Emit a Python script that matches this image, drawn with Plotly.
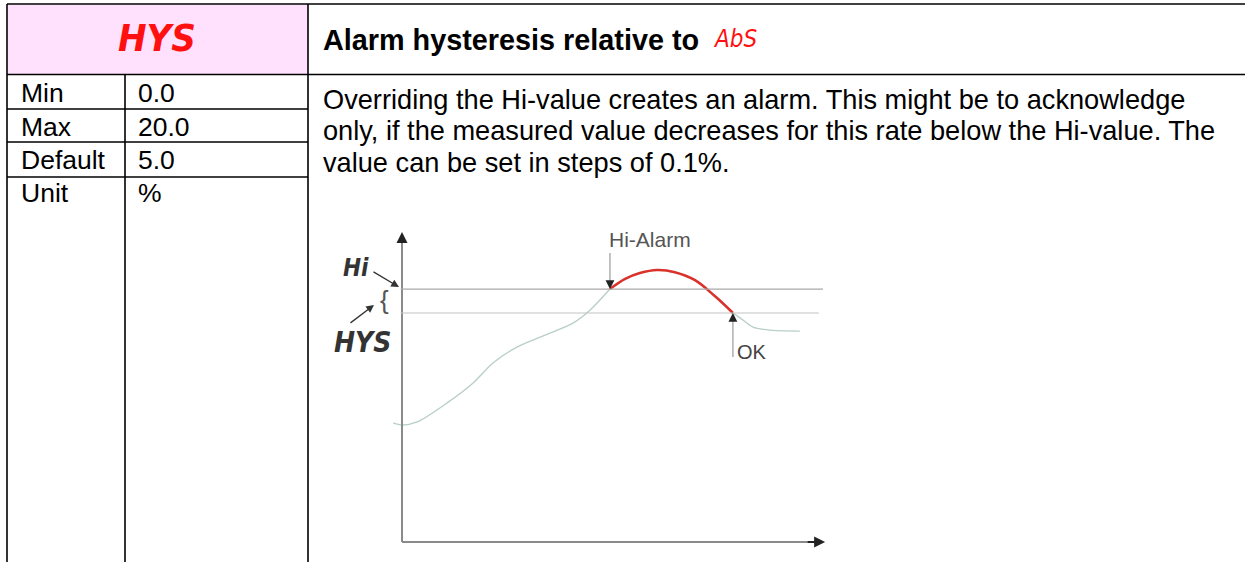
import plotly.graph_objects as go

# ---------------- data ----------------
param_names = ["Min", "Max", "Default", "Unit"]
param_values = ["0.0", "20.0", "5.0", "%"]
header_code = "HYS"
title_text = "Alarm hysteresis relative to"
title_code = "AbS"
body_lines = [
    "Overriding the Hi-value creates an alarm. This might be to acknowledge",
    "only, if the measured value decreases for this rate below the Hi-value. The",
    "value can be set in steps of 0.1%.",
]

# diagram (time units / value units)
hi_level = 82.4
hys_level = 74.6
rise_t = [-2.1, 0.0, 3.6, 10.7, 16.9, 21.6, 27.3, 34.0, 40.6, 44.7, 49.4]
rise_v = [38.8, 38.1, 39.1, 45.3, 51.8, 58.3, 63.5, 67.4, 71.3, 75.6, 82.4]
alarm_t = [49.4, 53.0, 56.5, 60.6, 64.8, 69.6, 74.3, 78.6]
alarm_v = [82.4, 85.7, 87.6, 88.6, 87.9, 85.3, 80.1, 74.6]
fall_t = [78.6, 80.3, 83.4, 87.4, 94.5]
fall_v = [74.6, 73.0, 70.0, 69.0, 68.7]
alarm_label = "Hi-Alarm"
ok_label = "OK"
hi_label = "Hi"
hys_label = "HYS"

# ---------------- layout constants ----------------
W, H = 1245, 562
SEG_FONT = "Liberation Sans Narrow, DejaVu Sans Condensed, Liberation Sans"
BODY_FONT = "Liberation Sans, Arial, sans-serif"

fig = go.Figure()

# diagram traces
curve_col = "#b9cfca"
fig.add_trace(go.Scatter(x=rise_t, y=rise_v, mode="lines", xaxis="x2", yaxis="y2",
                         line=dict(color=curve_col, width=1.4, shape="spline", smoothing=0.8),
                         hoverinfo="skip", showlegend=False))
fig.add_trace(go.Scatter(x=alarm_t, y=alarm_v, mode="lines", xaxis="x2", yaxis="y2",
                         line=dict(color="#d8322a", width=2.6, shape="spline", smoothing=1.0),
                         hoverinfo="skip", showlegend=False))
fig.add_trace(go.Scatter(x=fall_t, y=fall_v, mode="lines", xaxis="x2", yaxis="y2",
                         line=dict(color=curve_col, width=1.4, shape="spline", smoothing=0.8),
                         hoverinfo="skip", showlegend=False))

shapes = []
# pink header cell
shapes.append(dict(type="rect", xref="x", yref="y", x0=8, x1=307.5, y0=5, y1=74,
                   fillcolor="#FFE1FE", line=dict(width=0), layer="below"))
blk = dict(color="black", width=1.6)
for (x0, y0, x1, y1) in [(7, 4, W, 4), (7, 74.5, W, 74.5),
                         (7, 4, 7, H), (308, 4, 308, H), (125, 74.5, 125, H),
                         (7, 109, 308, 109), (7, 142, 308, 142), (7, 177, 308, 177)]:
    shapes.append(dict(type="line", xref="x", yref="y", x0=x0, y0=y0, x1=x1, y1=y1, line=blk))

# diagram axes and threshold lines
ax_col = "#8a8a8a"
shapes.append(dict(type="line", xref="x2", yref="y2", x0=0, x1=0, y0=0, y1=99, line=dict(color=ax_col, width=2)))
shapes.append(dict(type="line", xref="x2", yref="y2", x0=0, x1=99, y0=0, y1=0, line=dict(color=ax_col, width=2)))
shapes.append(dict(type="line", xref="x2", yref="y2", x0=-0.3, x1=100, y0=hi_level, y1=hi_level,
                   line=dict(color="#a9a9a9", width=1.2)))
shapes.append(dict(type="line", xref="x2", yref="y2", x0=-0.3, x1=99, y0=hys_level, y1=hys_level,
                   line=dict(color="#c4c4c4", width=1.2)))
# thin arrow shafts
shapes.append(dict(type="line", xref="x2", yref="y2", x0=49.4, x1=49.4, y0=94.1, y1=hi_level + 1,
                   line=dict(color="#9a9a9a", width=1.2)))
shapes.append(dict(type="line", xref="x2", yref="y2", x0=78.6, x1=78.6, y0=60.3, y1=hys_level - 1,
                   line=dict(color="#9a9a9a", width=1.2)))

annotations = []
# header texts
annotations.append(dict(xref="x", yref="y", x=157, y=38, text="<i><b>%s</b></i>" % header_code,
                        showarrow=False, font=dict(family=SEG_FONT, size=38, color="#ff1010"),
                        xanchor="center", yanchor="middle"))
annotations.append(dict(xref="x", yref="y", x=321, y=40,
                        text="<b>%s</b>" % title_text, showarrow=False,
                        font=dict(family=BODY_FONT, size=28.8, color="black"),
                        xanchor="left", yanchor="middle"))
annotations.append(dict(xref="x", yref="y", x=711, y=39, text="<i>%s</i>" % title_code,
                        showarrow=False, font=dict(family=SEG_FONT, size=24, color="#ff1010"),
                        xanchor="left", yanchor="middle"))
# table texts
row_y = [93, 126.5, 159.5, 193]
for name, val, yy in zip(param_names, param_values, row_y):
    annotations.append(dict(xref="x", yref="y", x=19, y=yy, text=name, showarrow=False,
                            font=dict(family=BODY_FONT, size=26.5, color="black"),
                            xanchor="left", yanchor="middle"))
    annotations.append(dict(xref="x", yref="y", x=136, y=yy, text=val, showarrow=False,
                            font=dict(family=BODY_FONT, size=26.5, color="black"),
                            xanchor="left", yanchor="middle"))
# body
for i, line in enumerate(body_lines):
    annotations.append(dict(xref="x", yref="y", x=321, y=99 + i * 31.8, text=line, showarrow=False,
                            font=dict(family=BODY_FONT, size=27.2, color="black"),
                            xanchor="left", yanchor="middle"))

# diagram arrowheads (axes)
head = dict(showarrow=True, arrowhead=2, arrowsize=1.1, arrowwidth=2, arrowcolor="#222", text="",
            xref="x2", yref="y2", axref="x2", ayref="y2")
annotations.append(dict(head, x=0, y=101, ax=0, ay=97))
annotations.append(dict(head, x=100.5, y=0, ax=96, ay=0))
# Hi-Alarm / OK arrowheads and labels
annotations.append(dict(head, x=49.4, y=hi_level, ax=49.4, ay=hi_level + 3, arrowwidth=1.6))
annotations.append(dict(head, x=78.6, y=hys_level, ax=78.6, ay=hys_level - 3, arrowwidth=1.6))
annotations.append(dict(xref="x2", yref="y2", x=48.6, y=98.4, text=alarm_label, showarrow=False,
                        font=dict(family=BODY_FONT, size=21, color="#555"),
                        xanchor="left", yanchor="middle"))
annotations.append(dict(xref="x2", yref="y2", x=79.1, y=61.9, text=ok_label, showarrow=False,
                        font=dict(family=BODY_FONT, size=20, color="#444"),
                        xanchor="left", yanchor="middle"))
# left labels of the diagram (page coordinates)
annotations.append(dict(xref="x", yref="y", x=356, y=268, text="<i><b>%s</b></i>" % hi_label,
                        showarrow=False, font=dict(family=SEG_FONT, size=24, color="#333"),
                        xanchor="center", yanchor="middle"))
annotations.append(dict(xref="x", yref="y", x=362, y=342, text="<i><b>%s</b></i>" % hys_label,
                        showarrow=False, font=dict(family=SEG_FONT, size=28, color="#333"),
                        xanchor="center", yanchor="middle"))
annotations.append(dict(xref="x", yref="y", x=384, y=300, text="{",
                        showarrow=False, font=dict(family=BODY_FONT, size=26, color="#555"),
                        xanchor="center", yanchor="middle"))
annotations.append(dict(xref="x", yref="y", axref="x", ayref="y", x=399, y=287, ax=372, ay=271,
                        text="", showarrow=True, arrowhead=2, arrowsize=1.2, arrowwidth=1.3,
                        arrowcolor="#333"))
annotations.append(dict(xref="x", yref="y", axref="x", ayref="y", x=374, y=305, ax=349, ay=324,
                        text="", showarrow=True, arrowhead=2, arrowsize=1.2, arrowwidth=1.3,
                        arrowcolor="#333"))

# diagram axis placement (pixel based)
X0_PX, T_SCALE = 402.0, 4.21
Y0_PX, V_SCALE = 542.0, 3.07
tr = [-3, 102]
vr = [-2, 102]
xd = [(X0_PX + tr[0] * T_SCALE) / W, (X0_PX + tr[1] * T_SCALE) / W]
yd = [1 - (Y0_PX - vr[0] * V_SCALE) / H, 1 - (Y0_PX - vr[1] * V_SCALE) / H]

fig.update_layout(
    width=W, height=H, margin=dict(l=0, r=0, t=0, b=0),
    paper_bgcolor="white", plot_bgcolor="rgba(0,0,0,0)",
    xaxis=dict(range=[0, W], domain=[0, 1], visible=False, fixedrange=True),
    yaxis=dict(range=[H, 0], domain=[0, 1], visible=False, fixedrange=True),
    xaxis2=dict(range=tr, domain=xd, anchor="y2", visible=False, fixedrange=True),
    yaxis2=dict(range=vr, domain=yd, anchor="x2", visible=False, fixedrange=True),
    shapes=shapes, annotations=annotations, showlegend=False,
)

fig.write_html("out.html", config={"displayModeBar": False},
               post_script="document.body.style.margin='0';")
